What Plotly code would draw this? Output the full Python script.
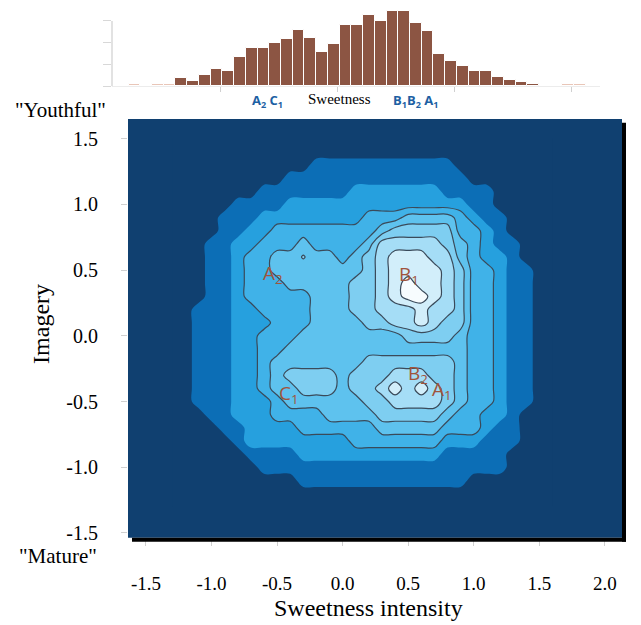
import plotly.graph_objects as go

# ---------------- data: histogram of sweetness (top strip) ----------------
hist_centers = [-1.33, -1.23, -1.13, -1.03, -0.93, -0.83, -0.73, -0.63, -0.53, -0.43,
                -0.33, -0.23, -0.13, -0.03, 0.07, 0.17, 0.27, 0.37, 0.47, 0.57,
                0.67, 0.77, 0.87, 0.97, 1.07, 1.17, 1.27, 1.37, 1.47, 1.57, 1.67]
hist_counts = [3.6, 2.6, 5.1, 8.0, 7.1, 13.6, 17.6, 17.6, 19.7, 21.8,
               25.8, 22.1, 15.9, 19.5, 28.2, 28.2, 32.7, 29.9, 34.4, 34.4,
               29.1, 25.3, 15.0, 11.4, 9.1, 7.1, 7.1, 4.4, 2.7, 1.8, 0.9]
tail_centers = [-1.73, -1.53, -1.43, 1.97, 2.07]
tail_counts = [1, 1, 1, 1, 1]
hist_tickvals = [-1, 0, 1, 2]
hist_yticks = [0, 10, 20, 30]

# ---------------- data: density level map --------------
grid_x = [-1.3, -1.2, -1.1, -1.0, -0.9, -0.8, -0.7, -0.6, -0.5, -0.4,
          -0.3, -0.2, -0.1, 0.0, 0.1, 0.2, 0.3, 0.4, 0.5, 0.6,
          0.7, 0.8, 0.9, 1.0, 1.1, 1.2, 1.3, 1.4, 1.5, 1.6]
grid_y = [1.5, 1.4, 1.3, 1.2, 1.1, 1.0, 0.9, 0.8, 0.7, 0.6,
          0.5, 0.4, 0.3, 0.2, 0.1, 0.0, -0.1, -0.2, -0.3, -0.4,
          -0.5, -0.6, -0.7, -0.8, -0.9, -1.0, -1.1, -1.2, -1.3]
level_rows = [
    "000000000000000000000000000000",
    "000000000000000000000000000000",
    "000000000001111111111100000000",
    "000000000111111111111110000000",
    "000000011111112222222111100000",
    "000001111222222222222221100000",
    "000011122222222333444432110000",
    "000011223333333345555533210000",
    "000112233343333466666543211000",
    "000112334444434567776643221000",
    "000112334444444567777653321100",
    "000112333444445567877653321100",
    "000112333334445567887653321100",
    "001112233334445566676653321100",
    "001112223334444556676553321100",
    "001112233344444444555543321100",
    "001112233444444444444443321100",
    "001112234444444555555543321100",
    "001112234555545556665543321100",
    "001112234455545567676543321100",
    "001112223444444556666543321100",
    "000112223333444455555433221000",
    "000011222233333344444333211000",
    "000001222222223333333222111000",
    "000000111122222222222111110000",
    "000000011111111111111111110000",
    "000000000011111111111110000000",
    "000000000000000000000000000000",
    "000000000000000000000000000000",
]
# small local maxima that fall between grid levels: (x, y, value)
local_peaks = [(-0.3, 0.6, 4.58)]

# ---------------- styling ----------------
level_colors = ["#104070", "#0c6eb6", "#26a0de", "#40b2e8", "#5ec2ee",
                "#7ecef1", "#a5ddf6", "#d2eefa", "#f7fcfe"]
point_labels = ["A<sub>2</sub>", "B<sub>1</sub>", "B<sub>2</sub>", "A<sub>1</sub>", "C<sub>1</sub>"]
point_x = [-0.53, 0.51, 0.575, 0.76, -0.41]
point_y = [0.47, 0.46, -0.29, -0.41, -0.44]
x_ticks = [-1.5, -1.0, -0.5, 0.0, 0.5, 1.0, 1.5, 2.0]
x_ticktext = ["-1.5", "-1.0", "-0.5", "0.0", "0.5", "1.0", "1.5", "2.0"]
y_ticks = [-1.5, -1.0, -0.5, 0.0, 0.5, 1.0, 1.5]
y_ticktext = ["-1.5", "-1.0", "-0.5", "0.0", "0.5", "1.0", "1.5"]

OFF = 8            # page body margin of the html page
FW, FH = 633, 617  # figure size so that the page is 641 x 625

z = [[float(ch) for ch in row] for row in level_rows]
for px_, py_, val in local_peaks:
    i = min(range(len(grid_y)), key=lambda k: abs(grid_y[k] - py_))
    j = min(range(len(grid_x)), key=lambda k: abs(grid_x[k] - px_))
    z[i][j] = val
y_asc = grid_y[::-1]
z_asc = z[::-1]

colorscale = [[k / 8, c] for k, c in enumerate(level_colors)]

fig = go.Figure()
fig.add_trace(go.Contour(
    x=grid_x, y=y_asc, z=z_asc, xaxis="x", yaxis="y",
    contours=dict(start=0.5, end=7.5, size=1, coloring="fill"),
    colorscale=colorscale, showscale=False, line=dict(width=0, smoothing=1),
    hoverinfo="skip"))
fig.add_trace(go.Contour(
    x=grid_x, y=y_asc, z=z_asc, xaxis="x", yaxis="y",
    contours=dict(start=2.5, end=7.5, size=1, coloring="none"),
    showscale=False, line=dict(width=1.2, color="#3a4a5a", smoothing=1),
    hoverinfo="skip"))

fig.add_trace(go.Bar(x=hist_centers, y=hist_counts, width=0.1, xaxis="x2", yaxis="y2",
                     marker=dict(color="#8c5543", line=dict(color="white", width=1)),
                     hoverinfo="skip"))
fig.add_trace(go.Bar(x=tail_centers, y=tail_counts, width=0.1, xaxis="x2", yaxis="y2",
                     marker=dict(color="#e9c6b8", line=dict(color="white", width=1)),
                     hoverinfo="skip"))


def px_x(p):
    return min(1.0, max(0.0, (p - OFF) / FW))


def px_y(p):
    return min(1.0, max(0.0, (FH - (p - OFF)) / FH))


serif = "Liberation Serif"
fig.update_layout(
    width=FW, height=FH, margin=dict(l=0, r=0, t=0, b=0),
    paper_bgcolor="white", plot_bgcolor="white", showlegend=False,
    barmode="overlay", bargap=0,
    xaxis=dict(domain=[px_x(128), px_x(622)], range=[-1.637, 2.131], anchor="y",
               tickvals=x_ticks, ticktext=x_ticktext, ticks="outside", ticklen=7,
               tickcolor="#d0d0d0", showgrid=False, zeroline=False, showline=False,
               tickfont=dict(family=serif, size=19, color="black"),
               ticklabelstandoff=21),
    yaxis=dict(domain=[px_y(543), px_y(120)], range=[-1.537, 1.651], anchor="x",
               tickvals=y_ticks, ticktext=y_ticktext, ticks="outside", ticklen=6,
               tickcolor="#d0d0d0", showgrid=False, zeroline=False, showline=False,
               tickfont=dict(family=serif, size=20, color="black"),
               ticklabelstandoff=19),
    xaxis2=dict(domain=[px_x(112), px_x(600)], range=[-1.921, 2.240], anchor="y2",
                tickvals=hist_tickvals, showticklabels=False, ticks="outside", ticklen=5,
                tickcolor="#d0d0d0", showgrid=False, zeroline=False,
                showline=True, linecolor="#ececec", linewidth=1),
    yaxis2=dict(domain=[px_y(87), px_y(8)], range=[0, 35.91], anchor="x2",
                tickvals=hist_yticks, showticklabels=False, ticks="outside", ticklen=8,
                tickcolor="#d8d8d8", showgrid=False, zeroline=False, showline=False),
)

shapes = [
    dict(type="rect", xref="x domain", yref="y domain", x0=0, x1=1, y0=0, y1=1,
         fillcolor=level_colors[0], line=dict(width=0), layer="below"),
    dict(type="rect", xref="paper", yref="paper", x0=px_x(622), x1=px_x(626),
         y0=px_y(547), y1=px_y(124), fillcolor="black", line=dict(width=0)),
    dict(type="rect", xref="paper", yref="paper", x0=px_x(132), x1=px_x(626),
         y0=px_y(547), y1=px_y(543), fillcolor="black", line=dict(width=0)),
    dict(type="line", xref="paper", yref="y2", x0=px_x(112), x1=px_x(112), y0=0, y1=30,
         line=dict(color="#d8d8d8", width=1.5)),
]
fig.update_layout(shapes=shapes)


def paper_text(text, x, y, size, family=serif, color="black", angle=0):
    return dict(text=text, xref="paper", yref="paper", x=px_x(x), y=px_y(y),
                xanchor="center", yanchor="middle", textangle=angle, showarrow=False,
                font=dict(family=family, size=size, color=color))


ann = [
    paper_text("Sweetness intensity", 368, 614, 24),
    paper_text("Imagery", 41, 327, 24, angle=-90),
    paper_text('"Youthful"', 60, 111, 21),
    paper_text('"Mature"', 58, 561, 21),
    paper_text("<b>A<sub>2</sub> C<sub>1</sub></b>", 267, 102, 13, "Open Sans", "#1d5fa3"),
    paper_text("Sweetness", 339, 100, 15),
    paper_text("<b>B<sub>1</sub>B<sub>2</sub> A<sub>1</sub></b>", 415, 102, 13, "Open Sans", "#1d5fa3"),
]
for t, xx, yy in zip(point_labels, point_x, point_y):
    ann.append(dict(text=t, x=xx, y=yy, xref="x", yref="y", showarrow=False,
                    xanchor="center", yanchor="middle",
                    font=dict(family="Open Sans", size=19, color="#a0543c")))
fig.update_layout(annotations=ann)

fig.write_html("out.html", config={"displayModeBar": False})
